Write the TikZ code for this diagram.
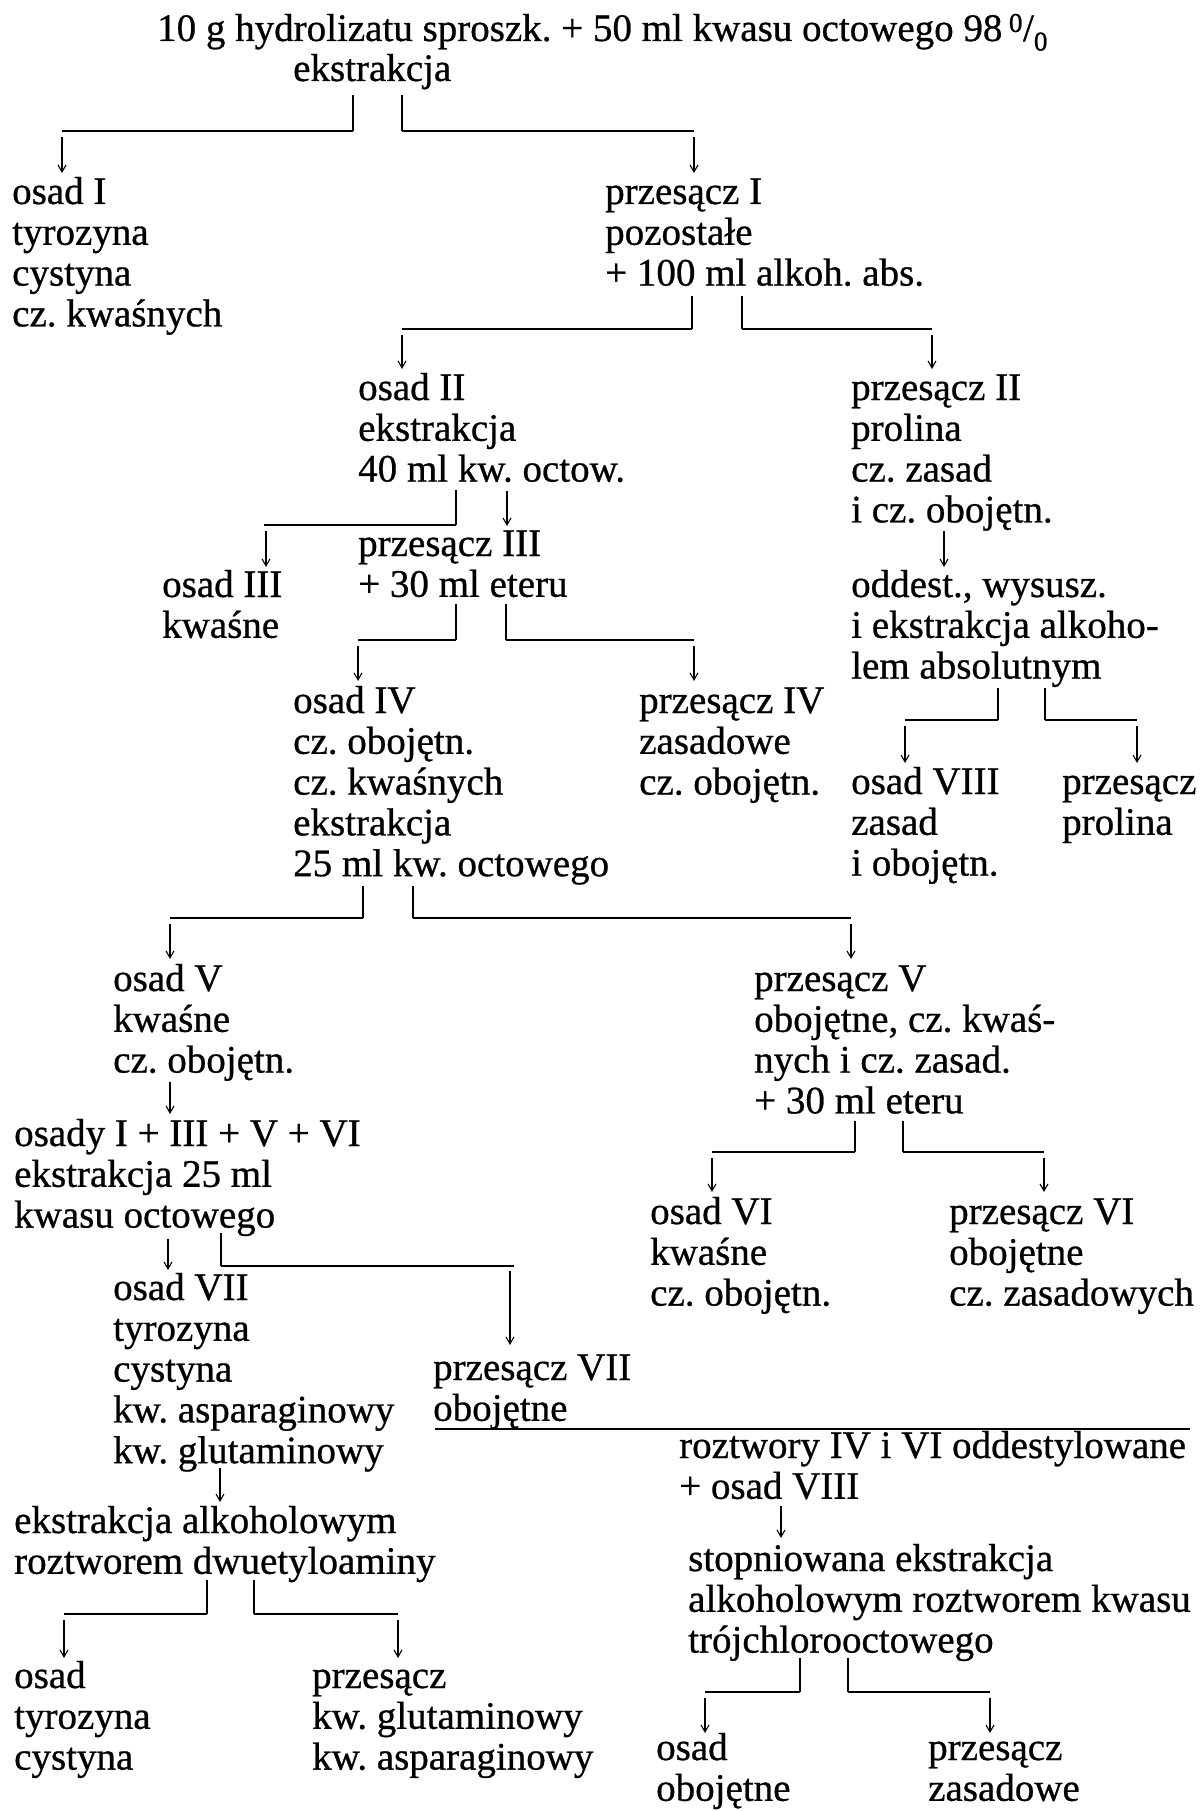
\documentclass[tikz,border=0pt]{standalone}
\usepackage{fontspec}
\setmainfont{Liberation Serif}[FakeBold=0.7]
\usetikzlibrary{arrows.meta}
\frenchspacing
\newcommand\tb[1]{\begin{tabular}[t]{@{}l@{}}#1\end{tabular}}
\newcommand\brsplit[8]{% name, x1, x2, ytop, yh, xl, xr, yend
  \coordinate (#1a) at (#2,#4); \coordinate (#1b) at (#3,#4);
  \coordinate (#1l) at (#6,#5); \coordinate (#1r) at (#7,#5);
  \coordinate (#1le) at (#6,#8); \coordinate (#1re) at (#7,#8);
  \draw[vl] (#1a) -- (#1a|-#1l); \draw[hl] (#1a|-#1l) -- (#1l);
  \draw[vl] (#1b) -- (#1b|-#1r); \draw[hl] (#1b|-#1r) -- (#1r);
  \draw[arr] ([yshift=-6pt]#1l) -- (#1le);
  \draw[arr] ([yshift=-6pt]#1r) -- (#1re);
}
\begin{document}
\begin{tikzpicture}[x=1pt,y=-1pt,
  txt/.style={anchor=base west,inner sep=0pt,font=\fontsize{39}{40.8}\selectfont},
  vl/.style={line width=1.5pt},
  hl/.style={line width=2.2pt},
  arr/.style={line width=1.1pt,-{Straight Barb[length=7pt,width=8pt]}}]
\useasboundingbox[fill=white] (0,0) rectangle (1200,1811);

\node[txt] (t1) at (157,41) {10 g hydrolizatu sproszk. + 50 ml kwasu octowego 98\,\textsuperscript{0}/\textsubscript{0}};
\node[txt] (t2) at (293,81) {ekstrakcja};
\node[txt] (osI) at (12,204) {\tb{osad I\\tyrozyna\\cystyna\\cz. kwaśnych}};
\node[txt] (prI) at (605,204) {\tb{przesącz I\\pozostałe\\+ 100 ml alkoh. abs.}};
\node[txt] (osII) at (358,400) {\tb{osad II\\ekstrakcja\\40 ml kw. octow.}};
\node[txt] (prII) at (851,400) {\tb{przesącz II\\prolina\\cz. zasad\\i cz. obojętn.}};
\node[txt] (prIII) at (358,556) {\tb{przesącz III\\+ 30 ml eteru}};
\node[txt] (osIII) at (162,597) {\tb{osad III\\kwaśne}};
\node[txt] (odd) at (851,597) {\tb{oddest., wysusz.\\i ekstrakcja alkoho-\\lem absolutnym}};
\node[txt] (osIV) at (293,713) {\tb{osad IV\\cz. obojętn.\\cz. kwaśnych\\ekstrakcja\\25 ml kw. octowego}};
\node[txt] (prIV) at (639,713) {\tb{przesącz IV\\zasadowe\\cz. obojętn.}};
\node[txt] (osVIII) at (851,794) {\tb{osad VIII\\zasad\\i obojętn.}};
\node[txt] (prPro) at (1062,794) {\tb{przesącz\\prolina}};
\node[txt] (osV) at (113,991) {\tb{osad V\\kwaśne\\cz. obojętn.}};
\node[txt] (prV) at (754,991) {\tb{przesącz V\\obojętne, cz. kwaś-\\nych i cz. zasad.\\+ 30 ml eteru}};
\node[txt] (osady) at (14,1146) {\tb{osady I + III + V + VI\\ekstrakcja 25 ml\\kwasu octowego}};
\node[txt] (osVI) at (650,1224) {\tb{osad VI\\kwaśne\\cz. obojętn.}};
\node[txt] (prVI) at (949,1224) {\tb{przesącz VI\\obojętne\\cz. zasadowych}};
\node[txt] (osVII) at (113,1300) {\tb{osad VII\\tyrozyna\\cystyna\\kw. asparaginowy\\kw. glutaminowy}};
\node[txt] (prVII) at (433,1380) {\tb{przesącz VII\\obojętne}};
\node[txt] (rozt) at (679,1458) {\tb{roztwory IV i VI oddestylowane\\+ osad VIII}};
\node[txt] (stop) at (688,1571) {\tb{stopniowana ekstrakcja\\alkoholowym roztworem kwasu\\trójchlorooctowego}};
\node[txt] (ekal) at (14,1533) {\tb{ekstrakcja alkoholowym\\roztworem dwuetyloaminy}};
\node[txt] (osTC) at (14,1688) {\tb{osad\\tyrozyna\\cystyna}};
\node[txt] (prGA) at (312,1688) {\tb{przesącz\\kw. glutaminowy\\kw. asparaginowy}};
\node[txt] (osObo) at (656,1760) {\tb{osad\\obojętne}};
\node[txt] (prZas) at (928,1760) {\tb{przesącz\\zasadowe}};

% splits
\brsplit{b1}{353}{402}{95}{131}{62}{694}{173}
\brsplit{b2}{692}{742}{296}{329}{402}{932}{369}
\brsplit{b4}{456}{506}{604}{640}{358}{694}{681}
\brsplit{b8}{998}{1045}{688}{720}{905}{1137}{763}
\brsplit{b5}{363}{413}{886}{918}{170}{851}{959}
\brsplit{b6}{855}{903}{1121}{1152}{712}{1044}{1192}
\brsplit{bs}{800}{848}{1658}{1692}{705}{990}{1733}
\brsplit{be}{207}{254}{1580}{1614}{64}{398}{1658}

% osad II branch
\coordinate (c2a) at (456,490); \coordinate (c2h) at (264,525);
\draw[vl] (c2a) -- (c2a|-c2h); \draw[hl] (c2a|-c2h) -- (c2h);
\coordinate (c2s) at (266,531); \coordinate (c2e) at (266,567);
\draw[arr] (c2s) -- (c2e);
\coordinate (c2rs) at (507,491); \coordinate (c2re) at (507,526);
\draw[arr] (c2rs) -- (c2re);

% osad VII branch
\coordinate (c7s) at (168,1239); \coordinate (c7e) at (168,1270);
\draw[arr] (c7s) -- (c7e);
\coordinate (c7a) at (221,1233); \coordinate (c7h) at (514,1266);
\draw[vl] (c7a) -- (c7a|-c7h); \draw[hl] (c7a|-c7h) -- (c7h);
\coordinate (c7rs) at (510,1271); \coordinate (c7re) at (510,1345);
\draw[arr] (c7rs) -- (c7re);

% single arrows
\coordinate (a1s) at (944,531); \coordinate (a1e) at (944,567);
\draw[arr] (a1s) -- (a1e);
\coordinate (a2s) at (170,1082); \coordinate (a2e) at (170,1114);
\draw[arr] (a2s) -- (a2e);
\coordinate (a3s) at (781,1506); \coordinate (a3e) at (781,1538);
\draw[arr] (a3s) -- (a3e);
\coordinate (a4s) at (220,1468); \coordinate (a4e) at (220,1502);
\draw[arr] (a4s) -- (a4e);

% long rule
\coordinate (r1) at (435,1429); \coordinate (r2) at (1190,1429);
\draw[line width=2.5pt] (r1) -- (r2);
\end{tikzpicture}
\end{document}
